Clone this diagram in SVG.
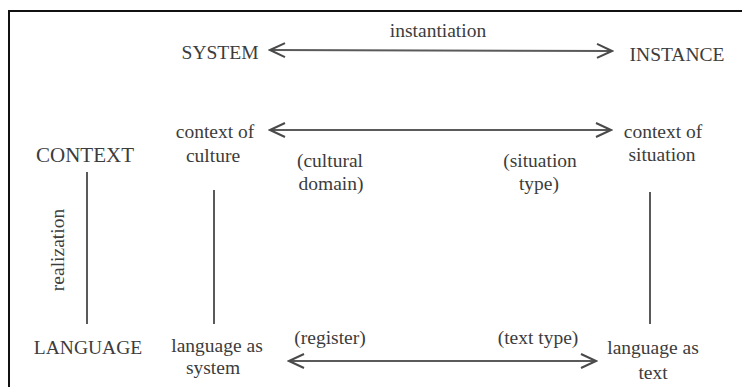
<svg xmlns="http://www.w3.org/2000/svg" width="742" height="387" viewBox="0 0 742 387">
<style>
text{font-family:"Liberation Serif","Times New Roman",serif;font-size:19.5px;fill:#3c3c3c;text-anchor:middle}
.big{font-size:21px}
.conn line{stroke:#5a5a5a;stroke-width:2;fill:none}
.arr{marker-start:url(#chev);marker-end:url(#chev)}
</style>
<defs>
<marker id="chev" markerUnits="userSpaceOnUse" viewBox="-18 -9 20 18" refX="0" refY="0" markerWidth="20" markerHeight="18" orient="auto-start-reverse">
<path d="M-15,-7 L0,0 L-15,7" fill="none" stroke="#4a4a4a" stroke-width="2"/>
</marker>
</defs>
<rect x="9" y="11" width="760" height="400" fill="#fff" stroke="#111" stroke-width="2"/>
<g class="conn">
<line class="arr" x1="270" y1="50" x2="612" y2="51"/>
<line class="arr" x1="270" y1="130" x2="611" y2="130"/>
<line class="arr" x1="289" y1="361" x2="596" y2="361"/>
<line x1="87" y1="172" x2="87" y2="324"/>
<line x1="214" y1="190" x2="214" y2="324"/>
<line x1="650" y1="192" x2="650" y2="324"/>
</g>
<text x="438" y="37">instantiation</text>
<g id="system"><text x="220" y="59">SYSTEM</text></g>
<g id="instance"><text x="677" y="61">INSTANCE</text></g>
<g id="context"><text class="big" x="85" y="162">CONTEXT</text></g>
<g id="context-culture"><text x="215" y="138">context of</text><text x="213" y="162">culture</text></g>
<g id="context-situation"><text x="663" y="138">context of</text><text x="662" y="161">situation</text></g>
<g id="cultural-domain"><text x="330" y="167">(cultural</text><text x="331" y="190">domain)</text></g>
<g id="situation-type"><text x="540" y="167">(situation</text><text x="539" y="190">type)</text></g>
<text transform="translate(64,250) rotate(-90)">realization</text>
<g id="language"><text x="88" y="354">LANGUAGE</text></g>
<g id="lang-system"><text x="217" y="352">language as</text><text x="213" y="374">system</text></g>
<g id="lang-text"><text x="653" y="354">language as</text><text x="653" y="379">text</text></g>
<text x="330" y="344">(register)</text>
<text x="538" y="344">(text type)</text>
</svg>
